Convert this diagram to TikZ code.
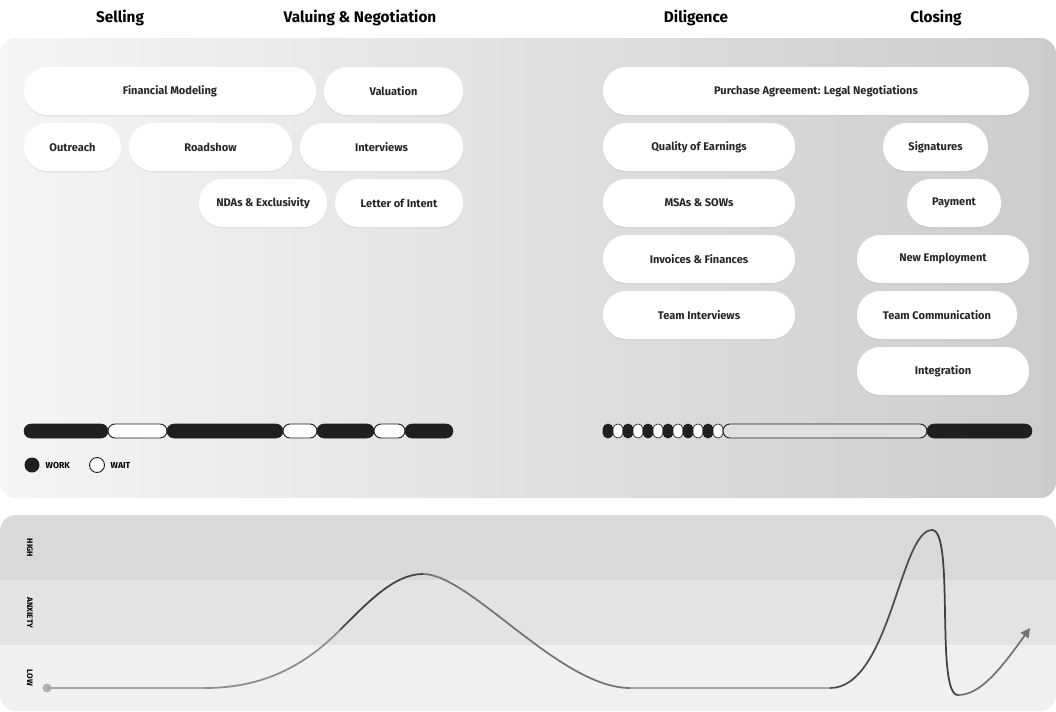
\documentclass[tikz,border=0pt]{standalone}
\usepackage{fontspec}
\setmainfont{Fira Sans}
\usetikzlibrary{arrows.meta,shadows}
\begin{document}
\begin{tikzpicture}[x=0.75pt,y=-0.75pt,
 pill/.style={draw=none,fill=white,rounded corners=23.5*0.75pt,drop shadow={shadow xshift=0pt,shadow yshift=-1pt,opacity=0.12}},
 ptxt/.style={font=\fontsize{8.3}{10}\selectfont\bfseries\color{black!85}},
 head/.style={font=\fontsize{11.5}{14}\selectfont\bfseries},
 wk/.style={fill=black!88,draw=black!88,rounded corners=7*0.75pt},
 wt/.style={fill=white,draw=black!88,line width=0.7pt,rounded corners=7*0.75pt},
 side/.style={font=\fontsize{6}{7}\selectfont\bfseries,rotate=-90}]
\useasboundingbox (0,0) rectangle (1056,711);
\fill[white] (0,0) rectangle (1056,711);
% headers
\node[head] (h1) at (120,18) {Selling};
\node[head] (h2) at (360,18) {Valuing \& Negotiation};
\node[head] (h3) at (696,18) {Diligence};
\node[head] (h4) at (936,18) {Closing};
% top panel
\shade[left color=black!4,right color=black!20,rounded corners=12pt] (0,38) rectangle (1056,498);
% pills
\newcommand\pl[6]{\path[pill] (#1,#3) rectangle (#2,#4); \node[ptxt] (#5) at ({(#1+#2)/2},{(#3+#4)/2}) {#6};}
\pl{24}{316}{67}{115}{fm}{Financial Modeling}
\pl{324}{463}{67}{115}{va}{Valuation}
\pl{24}{121}{123}{171}{ou}{Outreach}
\pl{129}{292}{123}{171}{rs}{Roadshow}
\pl{300}{463}{123}{171}{iv}{Interviews}
\pl{199}{327}{179}{227}{nda}{NDAs \& Exclusivity}
\pl{335}{463}{179}{227}{loi}{Letter of Intent}
\pl{603}{1029}{67}{115}{pa}{Purchase Agreement: Legal Negotiations}
\pl{603}{795}{123}{171}{qe}{Quality of Earnings}
\pl{603}{795}{179}{227}{ms}{MSAs \& SOWs}
\pl{603}{795}{235}{283}{inv}{Invoices \& Finances}
\pl{603}{795}{291}{339}{ti}{Team Interviews}
\pl{883}{988}{123}{171}{sg}{Signatures}
\pl{907}{1001}{179}{227}{pay}{Payment}
\pl{857}{1029}{235}{283}{ne}{New Employment}
\pl{857}{1017}{291}{339}{tc}{Team Communication}
\pl{857}{1029}{347}{395}{ig}{Integration}
% left bar
\path[wk] (24,424) rectangle (108,438);
\path[wt] (108,424) rectangle (167,438);
\path[wk] (167,424) rectangle (283,438);
\path[wt] (283,424) rectangle (317,438);
\path[wk] (317,424) rectangle (374,438);
\path[wt] (374,424) rectangle (405,438);
\path[wk] (405,424) rectangle (453,438);
% right bar
\foreach \i in {0,...,11}{
 \pgfmathtruncatemacro\odd{mod(\i,2)}
 \ifnum\odd=0 \path[wk,rounded corners=4.8*0.75pt] ({603+10*\i},424) rectangle ({613+10*\i},438);
 \else \path[wt,rounded corners=4.8*0.75pt,line width=0.5pt] ({603+10*\i},424) rectangle ({613+10*\i},438);\fi}
\path[wt,fill=black!12] (723,424) rectangle (927,438);
\path[wk] (927,424) rectangle (1032,438);
% legend
\fill[black!88] (32,465) circle (7.5*0.75pt);
\node[font=\fontsize{6.5}{8}\selectfont\bfseries,anchor=west] (lw) at (41,465) {WORK};
\draw[black!88,line width=0.7pt,fill=white] (97,465) circle (7.5*0.75pt);
\node[font=\fontsize{6.5}{8}\selectfont\bfseries,anchor=west] (lt) at (106,465) {WAIT};
% bottom panel
\begin{scope}
\clip[rounded corners=12pt] (0,515) rectangle (1056,711);
\fill[black!15] (0,515) rectangle (1056,580);
\fill[black!11] (0,580) rectangle (1056,645);
\fill[black!6] (0,645) rectangle (1056,711);
\end{scope}
\node[side] (hi) at (30,548) {HIGH};
\node[side] (an) at (30,613) {ANXIETY};
\node[side] (lo) at (30,678) {LOW};
% curve
\coordinate (c0) at (47,688);
\coordinate (c1) at (205,688);
\coordinate (c2) at (340,630);
\coordinate (c3) at (423,574);
\coordinate (c4) at (630,688);
\coordinate (c5) at (830,688);
\coordinate (c6) at (932,530);
\coordinate (c7) at (958,695);
\coordinate (c8) at (1030,628);
\fill[black!30] (c0) circle (4.5*0.75pt);
\draw[black!35,line width=1.3pt] (c0) -- (c1);
\draw[black!45,line width=1.3pt] (c1) .. controls (270,688) and (310,660) .. (c2);
\draw[black!75,line width=1.3pt] (c2) .. controls (370,600) and (395,574) .. (c3);
\draw[black!55,line width=1.3pt] (c3) .. controls (470,574) and (560,688) .. (c4);
\draw[black!35,line width=1.3pt] (c4) -- (c5);
\draw[black!70,line width=1.3pt] (c5) .. controls (890,688) and (900,530) .. (c6);
\draw[black!75,line width=1.3pt] (c6) .. controls (955,530) and (935,695) .. (c7);
\draw[black!55,line width=1.3pt,-{Triangle[length=7pt,width=7pt]}] (c7) .. controls (980,695) and (1000,670) .. (c8);
\end{tikzpicture}
\end{document}
